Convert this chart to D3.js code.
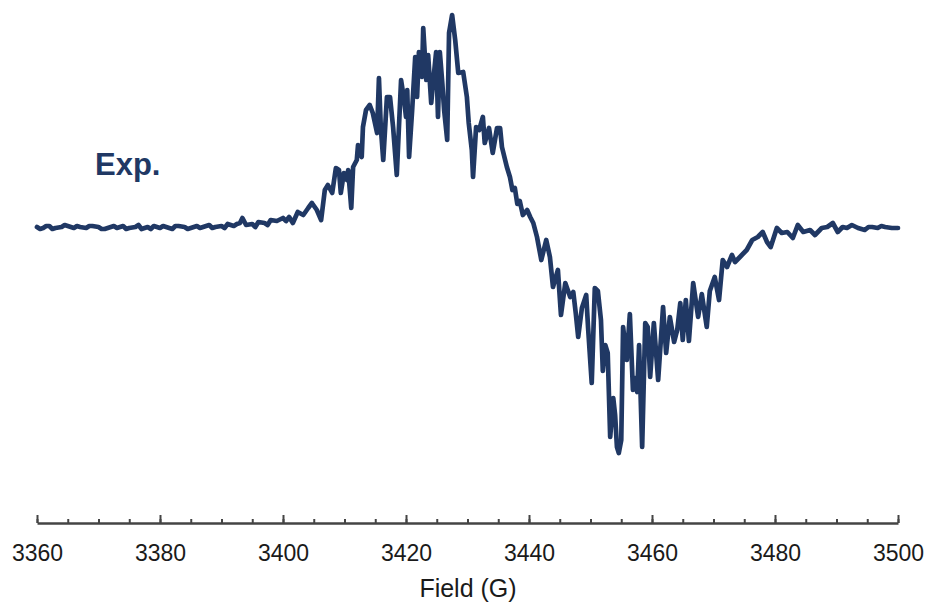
<!DOCTYPE html>
<html>
<head>
<meta charset="utf-8">
<script src="https://cdn.jsdelivr.net/npm/d3@7"></script>
<style>
  body { margin: 0; background: #fff; }
  svg { display: block; font-family: "Liberation Sans", Arial, sans-serif; }
</style>
</head>
<body>
<svg id="chart" width="927" height="607"></svg>
<script>
// EPR trace: field (G) and signal (arbitrary units, baseline = 0)
const field = [
  3360, 3360.5, 3361, 3361.5, 3362, 3362.5, 3363, 3364, 3364.5, 3365, 3366, 3366.5, 3367, 3368, 3368.5, 3369,
  3370, 3370.5, 3371, 3372, 3372.5, 3373, 3374, 3374.5, 3375, 3376, 3376.5, 3377, 3378, 3378.5, 3379,
  3380, 3380.5, 3381, 3382, 3382.5, 3383, 3384, 3384.5, 3385, 3386, 3386.5, 3387, 3388, 3388.5, 3389,
  3390, 3390.5, 3391, 3392, 3392.5, 3393, 3393.4, 3394, 3395, 3395.5, 3396, 3397, 3397.5, 3398, 3399,
  3400, 3400.5, 3401, 3401.6,
  3402.4, 3403.3, 3404.1, 3404.7, 3405.5, 3406.2, 3406.8, 3407.3, 3408.0, 3408.6,
  3409.1, 3409.4, 3409.9, 3410.4, 3410.6, 3411.1, 3411.4, 3412.0, 3412.2, 3412.8,
  3413.0, 3413.5, 3414.1, 3414.6, 3415.3, 3415.6, 3415.9, 3416.3, 3416.9, 3417.4,
  3417.9, 3418.5, 3419.2, 3419.7, 3420.0, 3420.2, 3420.5, 3421.0, 3421.5, 3421.8,
  3422.1, 3422.6, 3422.8, 3423.3, 3423.6, 3424.1, 3424.4, 3424.9, 3425.2, 3425.5,
  3425.9, 3426.2, 3426.7, 3427.0, 3427.5, 3428.0, 3428.5, 3429.3, 3429.9, 3430.2,
  3430.7, 3430.9, 3431.4, 3431.9, 3432.5, 3432.8, 3433.5, 3434.1, 3434.8, 3435.3,
  3435.6, 3436.4, 3436.9, 3437.3, 3437.7, 3438.1, 3438.5, 3439.0, 3439.7, 3440.2, 3440.7, 3441.3,
  3442.0, 3442.8, 3443.4, 3443.9, 3444.7, 3445.2, 3445.9, 3446.7, 3447.2, 3447.6,
  3448.0, 3448.6, 3449.3, 3449.6, 3450.2, 3450.7, 3451.2, 3451.7, 3452.0, 3452.4,
  3452.8, 3453.2, 3453.7, 3454.0, 3454.3, 3454.6, 3455.0, 3455.3, 3455.9, 3456.4,
  3456.9, 3457.2, 3457.6, 3457.9, 3458.4, 3458.9, 3459.3, 3459.7, 3460.3, 3461.0,
  3461.8, 3462.3, 3462.9, 3463.6, 3464.1, 3464.6, 3465.0, 3465.5, 3466.0, 3466.7,
  3467.5, 3468.1, 3468.9, 3469.4, 3470.2, 3470.9, 3471.5, 3472.2, 3473.0, 3473.5,
  3474.3, 3475.4, 3476.3, 3477.2, 3478.0, 3478.7, 3479.3, 3480.3, 3481.1, 3482.0,
  3482.9, 3483.7, 3484.6, 3485.7, 3486.5, 3487.6, 3488.5, 3489.4, 3490.2, 3491.0,
  3491.7, 3492.5, 3493.5, 3494.6, 3495.2, 3495.8, 3496.7, 3497.3, 3497.9, 3499.0,
  3500
];

const signal = [
  1, -1, 0, 2, 2, -1, 0, 1, 3, 2, 0, 2, 1, 0, 2, 2,
  1, -1, -1, 1, 2, 0, 2, -1, 0, 1, 3, -1, 1, -1, 2,
  0, 2, 1, -1, 2, 2, 1, -1, 0, 2, 0, 1, 3, 0, 1,
  2, 0, 4, 2, 4, 5, 10, 3, 4, 1, 6, 5, 3, 8, 7,
  10, 7, 11, 5,
  16, 13, 20, 25, 18, 8, 38, 43, 35, 60,
  58, 35, 55, 48, 58, 20, 61, 68, 83, 71,
  101, 118, 123, 115, 95, 150, 101, 68, 131, 131,
  101, 53, 148, 128, 111, 138, 71, 118, 171, 131,
  176, 151, 200, 148, 173, 125, 145, 176, 111, 176,
  145, 118, 88, 195, 213, 188, 155, 156, 131, 105,
  78, 51, 101, 98, 111, 85, 100, 75, 100, 100,
  81, 61, 51, 38, 40, 24, 27, 13, 18, 11, 5, -9,
  -32, -12, -29, -59, -42, -87, -55, -69, -64, -85,
  -109, -80, -67, -99, -155, -60, -63, -92, -143, -117,
  -125, -209, -170, -187, -219, -225, -212, -99, -132, -86,
  -162, -150, -164, -117, -219, -95, -99, -149, -95, -152,
  -79, -125, -89, -114, -102, -75, -112, -72, -113, -55,
  -89, -66, -99, -63, -49, -72, -32, -39, -27, -34,
  -29, -22, -12, -9, -4, -14, -19, 0, -5, -4,
  -10, 3, -4, -2, -7, 0, 1, 5, -4, 1,
  0, 3, 0, -2, 1, 1, 0, 2, 1, 0,
  0
];

const majorTicks = [3360, 3380, 3400, 3420, 3440, 3460, 3480, 3500];
const minorTicks = d3.range(3360, 3501, 5);

const svg = d3.select('#chart');
const lineColor = '#203864';

const x = d3.scaleLinear().domain([3360, 3500]).range([37, 898]);
const y = d3.scaleLinear().domain([-295, 228]).range([523, 0]);

const points = field.map((f, i) => ({ f: f, v: signal[i] }));

// axis: minor ticks first, then major ticks with labels
const axisG = svg.append('g').attr('transform', 'translate(0,523)');

axisG.append('g')
  .call(d3.axisBottom(x).tickValues(minorTicks).tickSize(-4).tickSizeOuter(0).tickFormat(''))
  .call((g) => g.select('.domain').remove())
  .call((g) => g.selectAll('.tick line').attr('stroke', '#444').attr('stroke-width', 2));

axisG.append('g')
  .call(d3.axisBottom(x).tickValues(majorTicks).tickSize(-8).tickSizeOuter(0).tickPadding(22).tickFormat(d3.format('d')))
  .call((g) => g.select('.domain').attr('stroke', '#444').attr('stroke-width', 2.5))
  .call((g) => g.selectAll('.tick line').attr('stroke', '#444').attr('stroke-width', 2))
  .call((g) => g.selectAll('.tick text')
    .attr('font-family', '"Liberation Sans", Arial, sans-serif')
    .attr('font-size', 23)
    .attr('fill', '#1a1a1a'));

svg.append('text')
  .attr('x', 468)
  .attr('y', 597)
  .attr('text-anchor', 'middle')
  .attr('font-size', 25)
  .attr('fill', '#1a1a1a')
  .text('Field (G)');

// spectrum
const line = d3.line()
  .x((p) => x(p.f))
  .y((p) => y(p.v));

svg.append('path')
  .datum(points)
  .attr('d', line)
  .attr('fill', 'none')
  .attr('stroke', lineColor)
  .attr('stroke-width', 4.7)
  .attr('stroke-linejoin', 'round')
  .attr('stroke-linecap', 'round');

svg.append('text')
  .attr('x', 95)
  .attr('y', 175)
  .attr('font-size', 31)
  .attr('font-weight', 'bold')
  .attr('fill', lineColor)
  .text('Exp.');
</script>
</body>
</html>
